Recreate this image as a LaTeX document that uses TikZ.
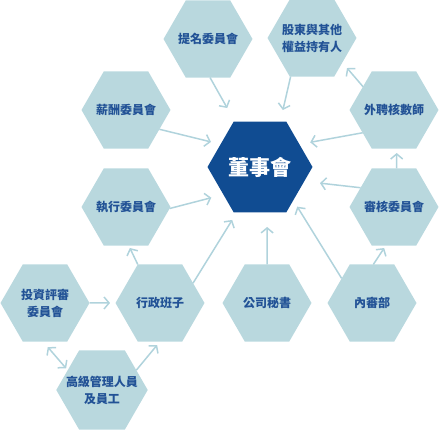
\documentclass[tikz,border=0pt]{standalone}
\usepackage{fontspec}
\newfontfamily\cjk{Noto Sans CJK TC}
\usepackage{xcolor}
\definecolor{hexgray}{RGB}{185,216,222}
\definecolor{boardblue}{RGB}{16,76,146}
\definecolor{labelblue}{RGB}{34,82,150}
\definecolor{linkgray}{RGB}{176,211,220}
\usetikzlibrary{shapes.geometric}
\usetikzlibrary{arrows.meta}
\usetikzlibrary{positioning}

\begin{document}
\begin{tikzpicture}[x=1pt, y=-1pt,
	hexa/.style={regular polygon, regular polygon sides=6, minimum size=89pt, inner sep=-8pt, outer sep=0pt, fill=hexgray, text=labelblue, align=center, font=\cjk\bfseries\fontsize{12}{17}\selectfont},
	boardhex/.style={hexa, minimum size=105pt, fill=boardblue, text=white, font=\cjk\bfseries\fontsize{21}{25}\selectfont},
	link/.style={draw=linkgray, line width=1.5pt, >={Straight Barb[length=5pt,width=12pt]}, ->}]
	\useasboundingbox (0,0) rectangle (440,430);
				% board in the middle
	\node[boardhex] (board) at (260,167) {董事會};
				% top row
	\node[hexa] (nom) at (208,39) {提名委員會};
	\node[hexa] (share) at (312,38) {股東與其他\\權益持有人};
	\node[hexa] (pay) at (126,110) {薪酬委員會};
	\node[hexa] (audext) at (394,110) {外聘核數師};
	\node[hexa] (exe) at (126,207) {執行委員會};
	\node[hexa] (audc) at (394,207) {審核委員會};
				% bottom rows
	\node[hexa] (inv) at (45,303) {投資評審\\委員會};
	\node[hexa] (admin) at (160,303) {行政班子};
	\node[hexa] (sec) at (267,303) {公司秘書};
	\node[hexa] (ia) at (372,303) {內審部};
	\node[hexa] (mgmt) at (102,390) {高級管理人員\\及員工};
				% arrows to the board
	\draw[link, shorten >=15.5pt] (nom.-87) -- (board.119);
	\draw[link, shorten >=11.8pt] (share.-119) -- (board.66);
	\draw[link, shorten >=9.9pt] (pay.-30) -- (board.150);
	\draw[link, shorten >=12.5pt] (exe.-2) -- (board.-143);
	\draw[link, shorten >=11pt] (audext.-144) -- (board.30);
	\draw[link, shorten >=15.9pt] (audc.150) -- (board.-18);
	\draw[link, shorten >=8.8pt] (admin.31) -- (board.-117);
	\draw[link, shorten >=14.5pt] (sec.90) -- (board.-81);
	\draw[link, shorten >=7.5pt] (ia.141) -- (board.-45);
				% other arrows
	\draw[link, shorten >=7.2pt] (audext.143) -- (share.-39);
	\draw[link, shorten >=4.5pt] (audc.86) -- (audext.-86);
	\draw[link, shorten >=3pt] (ia.88) -- (audc.-102);
	\draw[link, shorten >=2.7pt] (admin.120) -- (exe.-86);
	\draw[link, shorten >=5.5pt] (inv.0) -- (admin.180);
	\draw[link, shorten >=4.5pt] (mgmt.30) -- (admin.-90);
	\draw[link, <->, shorten <=7.3pt, shorten >=2.4pt] (inv.-93) -- (mgmt.150);
\end{tikzpicture}
\end{document}
